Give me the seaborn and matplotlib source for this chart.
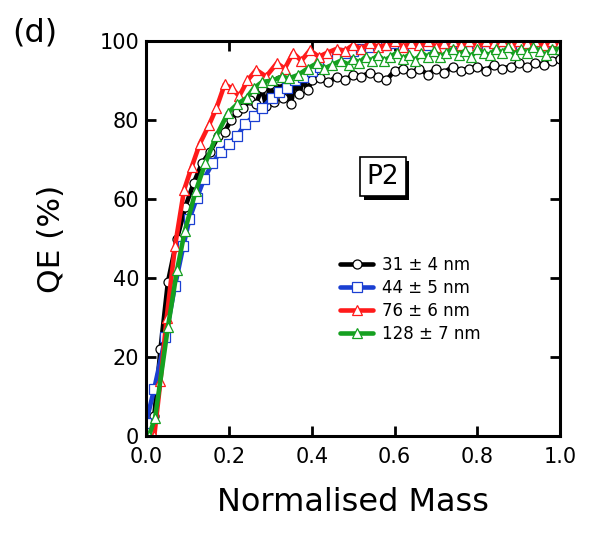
import matplotlib as mpl
mpl.use('Agg')
import matplotlib.pyplot as plt
import matplotlib.patheffects as pe
import seaborn as sns
import pandas as pd

# normalised mass and QE (%)
x_31 = [0.02, 0.035, 0.053, 0.075, 0.095, 0.115, 0.135, 0.155, 0.175, 0.19, 0.205, 0.22,
        0.235, 0.25, 0.265, 0.28, 0.29, 0.30, 0.31, 0.32, 0.33, 0.34, 0.35, 0.36, 0.37,
        0.38, 0.39, 0.40, 0.42, 0.44, 0.46, 0.48, 0.50, 0.52, 0.54, 0.56, 0.58, 0.60,
        0.62, 0.64, 0.66, 0.68, 0.70, 0.72, 0.74, 0.76, 0.78, 0.80, 0.82, 0.84, 0.86,
        0.88, 0.90, 0.92, 0.94, 0.96, 0.98, 1.00]
qe_31 = [5, 22, 39, 50, 58, 64, 69, 72, 76, 77, 80, 82,
         83, 85, 84, 88, 83.5, 89, 84.5, 90, 85.5, 89, 84, 90, 86.5,
         90.5, 87.5, 90, 90.5, 89.5, 91, 90, 91.5, 91, 92, 91, 90, 92.5,
         93, 92, 93, 91.5, 93, 92, 93.5, 92.5, 93, 93.5, 92.5, 94, 93,
         93.5, 94.5, 93.5, 94.5, 94, 95, 95.5]

x_44 = [0.0, 0.02, 0.047, 0.07, 0.09, 0.105, 0.123, 0.14, 0.16, 0.18, 0.20, 0.22, 0.24,
        0.26, 0.28, 0.304, 0.32, 0.34, 0.36, 0.38, 0.40, 0.42, 0.44, 0.46, 0.48, 0.50,
        0.52, 0.54, 0.56, 0.58, 0.60, 0.62, 0.64, 0.66, 0.68, 0.70, 0.72, 0.74, 0.76,
        0.78, 0.80, 0.82, 0.84, 0.86, 0.88, 0.90, 0.92, 0.94, 0.96, 0.98, 1.00]
qe_44 = [3.3, 12, 25, 38, 48, 55, 60.3, 65, 69, 72, 74, 76, 79,
         81, 83, 85.6, 87, 88, 90, 91, 92.5, 93.5, 95, 96, 97, 97.5,
         98, 98.5, 99, 99, 99.5, 99, 100, 99.5, 99, 100, 99.5, 100, 99,
         100, 99.5, 100, 99.5, 100, 99, 100, 99.5, 100, 99.5, 100, 99.5]

x_76 = [0.02, 0.035, 0.05, 0.07, 0.092, 0.11, 0.13, 0.152, 0.17, 0.19, 0.208, 0.225,
        0.245, 0.266, 0.29, 0.316, 0.335, 0.355, 0.375, 0.396, 0.417, 0.437, 0.46, 0.48,
        0.50, 0.52, 0.54, 0.56, 0.58, 0.60, 0.62, 0.64, 0.66, 0.68, 0.70, 0.72, 0.74,
        0.76, 0.78, 0.80, 0.82, 0.84, 0.86, 0.88, 0.90, 0.92, 0.94, 0.96, 0.98, 1.00]
qe_76 = [0, 14, 30, 48, 62.3, 68, 74, 78.7, 83, 89, 88, 86,
         90, 92.7, 91, 94.4, 93, 97, 95, 97.7, 96, 97, 98, 97.5,
         99, 98, 99.5, 98.5, 99, 100, 98.5, 99.5, 99, 100, 98.5, 99.5, 100,
         99, 100, 99, 100, 99.5, 100, 99, 100, 99.5, 100, 99, 100, 99.5]

x_128 = [0.0, 0.007, 0.022, 0.053, 0.075, 0.094, 0.12, 0.143, 0.17, 0.198, 0.22, 0.243,
         0.26, 0.28, 0.305, 0.329, 0.345, 0.367, 0.39, 0.413, 0.43, 0.45, 0.47, 0.49,
         0.50, 0.515, 0.53, 0.545, 0.56, 0.575, 0.59, 0.605, 0.62, 0.635, 0.65, 0.665,
         0.68, 0.695, 0.71, 0.725, 0.74, 0.755, 0.77, 0.785, 0.80, 0.815, 0.83, 0.845,
         0.86, 0.875, 0.89, 0.905, 0.92, 0.935, 0.95, 0.965, 0.98, 1.00]
qe_128 = [0, 0, 4.6, 27.6, 42, 52, 62, 69, 76, 81.8, 84, 85.6,
          88, 89.6, 90, 91, 90.5, 91.4, 93, 94.4, 93, 94, 95, 94,
          95.5, 94.5, 96, 95, 96.5, 95, 96, 97, 95.5, 96.5, 95, 97,
          96, 97.5, 96, 97, 98, 96.5, 97.5, 96, 98, 97, 96.5, 98,
          97, 98.5, 96.5, 98, 97, 98.5, 97.5, 96.5, 98, 98]

labels = ['31 \u00b1 4 nm', '44 \u00b1 5 nm', '76 \u00b1 6 nm', '128 \u00b1 7 nm']
colors = ['#000000', '#1a3fd2', '#ff1a1a', '#15a020']
markers = ['o', 's', '^', '^']
series = [(x_31, qe_31), (x_44, qe_44), (x_76, qe_76), (x_128, qe_128)]

sns.set_style('ticks')
plt.rcParams['font.family'] = ['DejaVu Sans']
plt.rcParams['text.color'] = 'black'
plt.rcParams['axes.labelcolor'] = 'black'

fig = plt.figure(figsize=(5.91, 5.39), dpi=100)
ax = fig.add_axes([0.247, 0.191, 0.701, 0.733])

for (xs, ys), lab, col, mk in zip(series, labels, colors, markers):
    df = pd.DataFrame({'mass': xs, 'qe': ys})
    sns.lineplot(data=df, x='mass', y='qe', ax=ax, color=col, marker=mk, label=lab,
                 sort=False, estimator=None, linewidth=3.3, markersize=6.5,
                 markerfacecolor='white', markeredgecolor=col, markeredgewidth=0.9)

ax.set_xlim(0, 1.0)
ax.set_ylim(0, 100)
ax.set_xticks([0.0, 0.2, 0.4, 0.6, 0.8, 1.0])
ax.set_xticklabels(['0.0', '0.2', '0.4', '0.6', '0.8', '1.0'])
ax.set_yticks([0, 20, 40, 60, 80, 100])
ax.tick_params(direction='in', length=7, width=2, labelsize=15, top=True, right=True,
               colors='black')
ax.tick_params(axis='x', pad=8)
ax.tick_params(axis='y', pad=5)
for sp in ax.spines.values():
    sp.set_linewidth(2.2)
    sp.set_color('black')
ax.set_xlabel('Normalised Mass', fontsize=23, labelpad=14)
ax.set_ylabel('QE (%)', fontsize=22.5, labelpad=24)

leg = ax.legend(loc='upper left', bbox_to_anchor=(0.452, 0.472), frameon=False,
                fontsize=12, handlelength=2.0, handletextpad=0.55, labelspacing=0.3,
                borderaxespad=0)

t = ax.text(0.572, 0.656, 'P2', transform=ax.transAxes, fontsize=19, ha='center',
            va='center', bbox=dict(boxstyle='square,pad=0.25', fc='white', ec='black', lw=1.2))
t.get_bbox_patch().set_path_effects([pe.SimplePatchShadow(offset=(2.5, -2.5), shadow_rgbFace='black', alpha=1),
                                     pe.Normal()])

fig.text(0.02, 0.968, '(d)', fontsize=23, ha='left', va='top')

fig.savefig('out.png', dpi=100)
